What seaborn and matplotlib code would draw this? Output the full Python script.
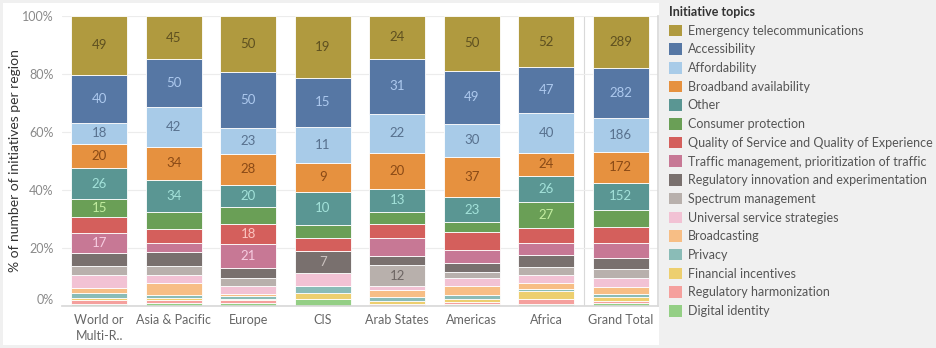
import matplotlib
matplotlib.use("Agg")
import matplotlib.pyplot as plt
from matplotlib.patches import Patch, Rectangle
import seaborn as sns
import pandas as pd
import numpy as np

# ---------------- data ----------------
regions = ["World or\nMulti-R..", "Asia & Pacific", "Europe", "CIS", "Arab States",
           "Americas", "Africa"]
total_label = "Grand Total"

topics = ["Emergency telecommunications", "Accessibility", "Affordability",
          "Broadband availability", "Other", "Consumer protection",
          "Quality of Service and Quality of Experience",
          "Traffic management, prioritization of traffic",
          "Regulatory innovation and experimentation", "Spectrum management",
          "Universal service strategies", "Broadcasting", "Privacy",
          "Financial incentives", "Regulatory harmonization", "Digital identity"]

# counts per region (World, Asia & Pacific, Europe, CIS, Arab States, Americas, Africa)
emergency = [49, 45, 50, 19, 24, 50, 52]
accessibility = [40, 50, 50, 15, 31, 49, 47]
affordability = [18, 42, 23, 11, 22, 30, 40]
broadband = [20, 34, 28, 9, 20, 37, 24]
other = [26, 34, 20, 10, 13, 23, 26]
consumer = [15, 18, 15, 4, 7, 9, 27]
qos = [13, 14, 18, 4, 8, 17, 15]
traffic = [17, 10, 21, 0, 10, 12, 12]
reg_innovation = [11, 14, 9, 7, 5, 8, 12]
spectrum = [7, 10, 7, 0, 12, 5, 8]
universal = [11, 8, 7, 4, 2, 8, 9]
broadcasting = [4, 13, 2, 0, 4, 8, 6]
privacy = [4, 3, 3, 2, 2, 4, 2]
financial = [2, 2, 1, 2, 2, 2, 8]
harmonization = [3, 3, 2, 0, 1, 2, 5]
digital_identity = [2, 3, 3, 2, 0, 2, 2]

series = [emergency, accessibility, affordability, broadband, other, consumer, qos,
          traffic, reg_innovation, spectrum, universal, broadcasting, privacy,
          financial, harmonization, digital_identity]

colors = ["#B09A3F", "#5677A4", "#A8CBE8", "#E6913F", "#5A9693", "#6A9F56",
          "#D45F5C", "#C77895", "#79706E", "#B8B0AC", "#F2C2D4", "#F7BE85",
          "#8ABCB7", "#EDCF6F", "#F5A09D", "#94CF85"]
label_colors = ["#5E5020", "#ADC9EE", "#58718E", "#8A4A16", "#A3E2DA", "#C3EDA0",
                "#FBC4C0", "#F6CCE0", "#CBC2BF", "#6E6664", "#777", "#777",
                "#333", "#333", "#333", "#333"]

# which segments carry a value label (as in the reference)
first5 = topics[:5]
shown_labels = {
    regions[0]: first5 + ["Consumer protection", "Traffic management, prioritization of traffic"],
    regions[1]: first5,
    regions[2]: first5 + ["Quality of Service and Quality of Experience",
                          "Traffic management, prioritization of traffic"],
    regions[3]: first5 + ["Regulatory innovation and experimentation"],
    regions[4]: first5 + ["Spectrum management"],
    regions[5]: first5,
    regions[6]: first5 + ["Consumer protection"],
    total_label: first5,
}

# ---------------- tidy table ----------------
rows = []
for t, vals in zip(topics, series):
    for r, v in zip(regions, vals):
        rows.append((r, t, v))
df = pd.DataFrame(rows, columns=["region", "topic", "count"])
tot = df.groupby("topic", sort=False)["count"].sum().reset_index()
tot["region"] = total_label
df = pd.concat([df, tot[["region", "topic", "count"]]], ignore_index=True)
order = regions + [total_label]
df["region"] = pd.Categorical(df["region"], categories=order, ordered=True)
df["topic"] = pd.Categorical(df["topic"], categories=topics, ordered=True)

palette = dict(zip(topics, colors))

# ---------------- figure ----------------
sns.set_theme(style="white")
plt.rcParams['font.family'] = ['Lato', 'DejaVu Sans']

W, H = 936, 348
fig = plt.figure(figsize=(W / 100, H / 100), dpi=100, facecolor="#f0f0f0")
fig.patches.append(Rectangle((3 / W, 3 / H), (659 - 3) / W, (345 - 3) / H,
                             transform=fig.transFigure, facecolor="white",
                             edgecolor="none", zorder=-10))
ax = fig.add_axes([62 / W, 42 / H, (658 - 62) / W, (332 - 42) / H])
ax.set_facecolor("white")

sns.histplot(data=df, x="region", hue="topic", weights="count", multiple="fill",
             discrete=True, shrink=0.75, hue_order=topics, palette=palette,
             alpha=1, edgecolor="white", linewidth=0.6, legend=False, ax=ax)

# value labels, computed from data
for xi, reg in enumerate(order):
    sub = df[df["region"] == reg].set_index("topic")["count"].reindex(topics)
    total = sub.sum()
    frac = sub / total
    cum = frac.cumsum()
    for ti, t in enumerate(topics):
        if t in shown_labels[reg] and sub[t] > 0:
            center = 1 - (cum[t] - frac[t] / 2)
            ax.text(xi, center, f"{int(sub[t])}", ha="center", va="center",
                    fontsize=9.5, color=label_colors[ti])

ax.set_xlim(-0.5, 7.5)
ax.set_ylim(0, 1)
ax.set_yticks(np.arange(0, 1.01, 0.2))
ax.set_yticklabels([f"{int(round(v * 100))}%" for v in np.arange(0, 1.01, 0.2)])
ax.set_xticks(range(len(order)))
ax.set_xticklabels(order, linespacing=1.35)
ax.set_xticks(np.arange(-0.5, 7.6, 1), minor=True)
ax.tick_params(axis="x", which="major", length=0, pad=6, labelsize=9, labelcolor="#666")
ax.tick_params(axis="x", which="minor", length=6, width=0.8, color="#dcdcdc")
ax.tick_params(axis="y", length=0, pad=6, labelsize=9, labelcolor="#8a8a8a")
ax.get_yticklabels()[0].set_va("bottom")
ax.set_xlabel("")
ax.set_ylabel("% of number of initiatives per region", fontsize=10, color="#333")
ax.yaxis.set_label_coords(-(62 - 21) / (658 - 62), 0.5)
ax.yaxis.grid(True, color="#ececec", linewidth=0.8)
ax.set_axisbelow(True)
for s in ["top", "left"]:
    ax.spines[s].set_visible(False)
ax.spines["bottom"].set_color("#d9d9d9")
ax.spines["right"].set_color("#d9d9d9")
ax.axvline(6.5, color="#d9d9d9", linewidth=0.8, zorder=0)

handles = [Patch(facecolor=palette[t], edgecolor="none") for t in topics]
leg = fig.legend(handles, topics, loc="upper left",
                 bbox_to_anchor=(669 / W, 1 - 6 / H), frameon=False,
                 title="Initiative topics",
                 title_fontproperties={"weight": "bold", "size": 9},
                 fontsize=9, handlelength=1.05, handleheight=1.05,
                 handletextpad=0.45, labelspacing=0.53, borderaxespad=0,
                 borderpad=0, alignment="left")
for txt in leg.get_texts():
    txt.set_color("#555")
leg.get_title().set_color("#333")

fig.savefig("out.png", dpi=100, facecolor=fig.get_facecolor())
